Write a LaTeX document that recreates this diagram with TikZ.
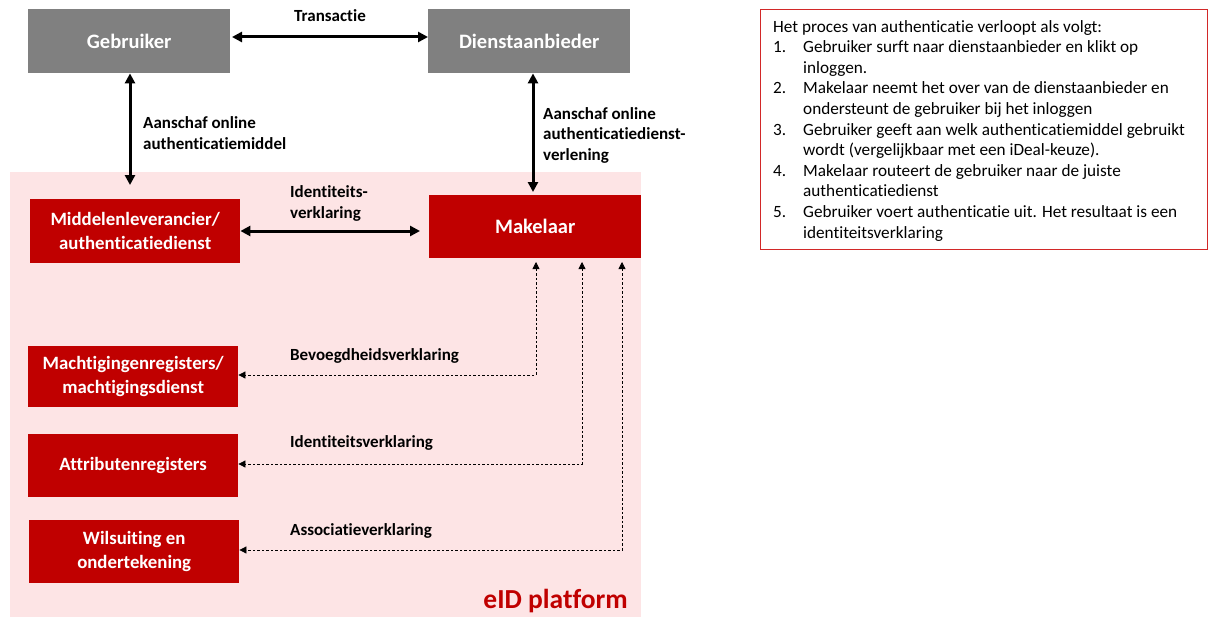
\documentclass[tikz,border=0pt]{standalone}
\usepackage{fontspec}
\setmainfont{Carlito}[Ligatures=NoCommon]
\usetikzlibrary{arrows.meta}
\definecolor{boxgray}{RGB}{128,128,128}
\definecolor{boxred}{RGB}{192,0,0}
\definecolor{pinkbg}{RGB}{253,228,229}
\definecolor{framered}{RGB}{210,40,40}
\tikzset{
  graybox/.style={fill=boxgray, text=white, font=\bfseries\fontsize{20.5}{24}\selectfont, align=center, inner sep=0pt},
  redbox/.style={fill=boxred, text=white, font=\bfseries\fontsize{18.8}{24}\selectfont, align=center, inner sep=0pt},
  lbl/.style={font=\bfseries\fontsize{17}{20.5}\selectfont, align=left, inner sep=0pt, anchor=west},
  solidarrow/.style={line width=3pt, {Triangle[length=10pt,width=10pt]}-{Triangle[length=10pt,width=10pt]}},
  dasharrow/.style={line width=0.8pt, dash pattern=on 2.5pt off 2pt, {Triangle[length=7pt,width=7pt]}-{Triangle[length=7pt,width=7pt]}},
}
\begin{document}
\begin{tikzpicture}[x=1pt,y=-1pt]
\useasboundingbox (0,0) rectangle (1208,618);
\fill[pinkbg] (10,172) rectangle (641,617);
% boxes
\node[graybox, minimum width=202pt, minimum height=64pt, anchor=north west] (geb) at (28,9) {Gebruiker};
\node[graybox, minimum width=202pt, minimum height=64pt, anchor=north west] (dien) at (428,9) {Dienstaanbieder};
\node[redbox, minimum width=210pt, minimum height=64pt, anchor=north west] (mid) at (30,199) {Middelenleverancier/\\authenticatiedienst};
\node[redbox, font=\bfseries\fontsize{20.5}{24}\selectfont, minimum width=212pt, minimum height=63pt, anchor=north west] (mak) at (429,195) {Makelaar};
\node[redbox, minimum width=210pt, minimum height=61pt, anchor=north west] (macht) at (28,346) {Machtigingenregisters/\\machtigingsdienst};
\node[redbox, minimum width=210pt, minimum height=63pt, anchor=north west] (attr) at (28,434) {Attributenregisters};
\node[redbox, minimum width=210pt, minimum height=63pt, anchor=north west] (wils) at (29,520) {Wilsuiting en\\ondertekening};
% coordinates
\coordinate (g1) at (130,185);
\coordinate (d1) at (533,192);
\coordinate (m1) at (420,231);
\coordinate (k1) at (536,262);
\coordinate (k2) at (582,262);
\coordinate (k3) at (622,262);
% solid arrows
\coordinate (ge) at (232,37);
\draw[solidarrow] (ge) -- (dien.west |- ge);
\draw[solidarrow] (geb.south -| g1) -- (g1);
\draw[solidarrow] (dien.south -| d1) -- (d1);
\draw[solidarrow] (mid.east |- m1) -- (m1);
% dashed arrows
\draw[dasharrow] (k1) |- (macht.east |- 0,375);
\draw[dasharrow] (k2) |- (attr.east |- 0,464);
\draw[dasharrow] (k3) |- (wils.east |- 0,550);
% labels
\node[lbl, anchor=center] (ltr) at (330,16) {Transactie};
\node[lbl] (laan1) at (143,133) {Aanschaf online\\authenticatiemiddel};
\node[lbl] (laan2) at (543,135) {Aanschaf online\\authenticatiedienst-\\verlening};
\node[lbl] (lid) at (290,203.5) {Identiteits-\\verklaring};
\node[lbl] (lbev) at (290,356) {Bevoegdheidsverklaring};
\node[lbl] (lidv) at (290,443) {Identiteitsverklaring};
\node[lbl] (lass) at (290,531) {Associatieverklaring};
\node[font=\bfseries\fontsize{27.5}{30}\selectfont, text=boxred, anchor=base east, inner sep=0pt] (eid) at (628,608) {eID platform};
% info box
\node[draw=framered, line width=1pt, minimum width=447pt, minimum height=240pt, anchor=north west, inner sep=0pt] (frame) at (760,9) {};
\node[anchor=north west, inner sep=0pt, font=\fontsize{17.2}{20.6}\selectfont, align=left] (info) at (773,20) {%
Het proces van authenticatie verloopt als volgt:\\
\makebox[30pt][l]{1.}Gebruiker surft naar dienstaanbieder en klikt op\\
\hspace*{30pt}inloggen.\\
\makebox[30pt][l]{2.}Makelaar neemt het over van de dienstaanbieder en\\
\hspace*{30pt}ondersteunt de gebruiker bij het inloggen\\
\makebox[30pt][l]{3.}Gebruiker geeft aan welk authenticatiemiddel gebruikt\\
\hspace*{30pt}wordt (vergelijkbaar met een iDeal-keuze).\\
\makebox[30pt][l]{4.}Makelaar routeert de gebruiker naar de juiste\\
\hspace*{30pt}authenticatiedienst\\
\makebox[30pt][l]{5.}Gebruiker voert authenticatie uit. Het resultaat is een\\
\hspace*{30pt}identiteitsverklaring};
\end{tikzpicture}
\end{document}
